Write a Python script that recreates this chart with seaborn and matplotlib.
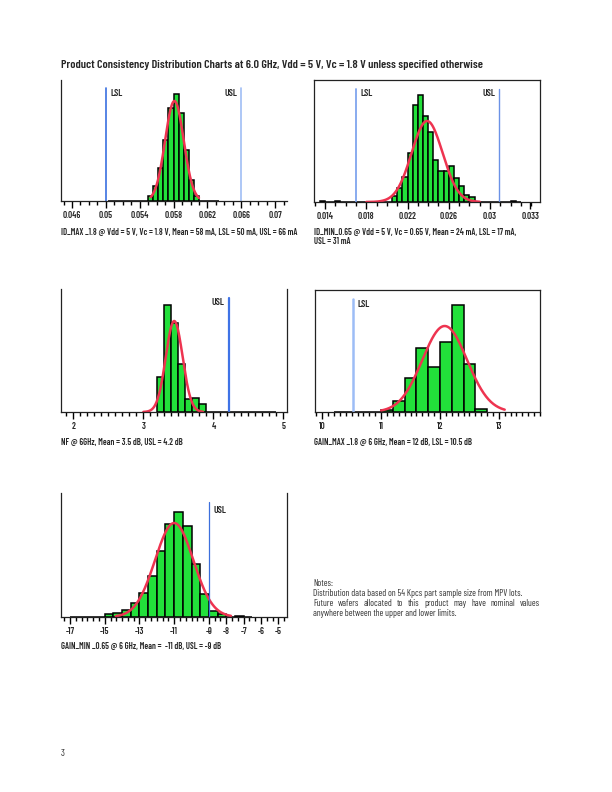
import numpy as np
import pandas as pd
import matplotlib
matplotlib.use("Agg")
import matplotlib.pyplot as plt
from matplotlib.ticker import FixedLocator, MultipleLocator
import seaborn as sns

sns.set_theme(style="white")
# condensed sans, close to the datasheet's Myriad Condensed
plt.rcParams["font.family"] = ["Barlow Condensed", "Archivo Narrow", "DejaVu Sans"]

# ---- data (bar heights in arbitrary units) ----
# ID_MAX
idmax_centers = [0.0553, 0.0559, 0.0565, 0.0571, 0.0577, 0.0583, 0.0589, 0.0595, 0.0601, 0.0607]
idmax_counts = [5, 15, 33, 61, 93, 107, 88, 51, 21, 5]
idmax_ticks = [0.046, 0.05, 0.054, 0.058, 0.062, 0.066, 0.07]
idmax_labels = ["0.046", "0.05", "0.054", "0.058", "0.062", "0.066", "0.07"]

# ID_MIN
idmin_centers = [0.01375, 0.01525, 0.02075, 0.02125, 0.02175, 0.02225, 0.02275, 0.02325,
                 0.02375, 0.02425, 0.02475, 0.02525, 0.02575, 0.02625, 0.02675, 0.02725,
                 0.02775, 0.02825, 0.03225]
idmin_counts = [1, 1, 6, 14, 25, 49, 97, 107, 86, 70, 42, 31, 31, 36, 24, 16, 7, 5, 1]
idmin_ticks = [0.014, 0.018, 0.022, 0.026, 0.03, 0.0339]
idmin_labels = ["0.014", "0.018", "0.022", "0.026", "0.03", "0.033"]

# NF
nf_centers = [3.25, 3.35, 3.45, 3.55, 3.65, 3.75, 3.85]
nf_counts = [35, 107, 89, 48, 13, 14, 8]
nf_ticks = [2, 3, 4, 5]
nf_labels = ["2", "3", "4", "5"]

# GAIN_MAX
gmax_centers = [11.1, 11.3, 11.5, 11.7, 11.9, 12.1, 12.3, 12.5, 12.7]
gmax_counts = [2, 11, 34, 64, 45, 70, 107, 48, 3]
gmax_ticks = [10, 11, 12, 13]
gmax_labels = ["10", "11", "12", "13"]

# GAIN_MIN
gmin_centers = [-14.75, -14.25, -13.75, -13.25, -12.75, -12.25, -11.75, -11.25, -10.75,
                -10.25, -9.75, -9.25, -8.75, -8.25, -7.25]
gmin_counts = [3, 4, 7, 14, 24, 41, 66, 93, 105, 91, 53, 23, 6, 3, 1]
gmin_ticks = [-17, -15, -13, -11, -9, -8, -7, -6, -5]
gmin_labels = ["-17", "-15", "-13", "-11", "-9", "-8", "-7", "-6", "-5"]

# normal fit overlays: mean, sd, peak height
fits = {
    "idmax": (0.0581, 0.0011, 100),
    "idmin": (0.0239, 0.0015, 81),
    "nf": (3.44, 0.12, 91),
    "gmax": (12.08, 0.38, 86),
    "gmin": (-11.0, 1.1, 94),
}

GREEN = "#22e03a"
RED = "#ee3450"
W, H = 612, 792
BOLD = 600


def box(l, t, r, b):
    return [l / W, 1 - b / H, (r - l) / W, (b - t) / H]


def panel(ax, centers, counts, width, rng, fit, span, xlim, ymax, ticks, labels, minor, spines):
    df = pd.DataFrame({"x": centers, "n": counts})
    sns.histplot(data=df, x="x", weights="n", binwidth=width, binrange=rng,
                 color=GREEN, edgecolor="black", linewidth=1.1, alpha=1, ax=ax)
    mean, sd, peak = fit
    xs = np.linspace(span[0], span[1], 200)
    ys = peak * np.exp(-0.5 * ((xs - mean) / sd) ** 2)
    sns.lineplot(x=xs, y=ys, color=RED, lw=1.8, ax=ax)
    ax.set_xlim(*xlim)
    ax.set_ylim(0, ymax)
    ax.set_yticks([])
    ax.set_xlabel("")
    ax.set_ylabel("")
    ax.xaxis.set_major_locator(FixedLocator(ticks))
    ax.set_xticklabels(labels, fontsize=6.6, fontweight=BOLD)
    ax.xaxis.set_minor_locator(MultipleLocator(minor))
    ax.tick_params(axis="x", which="both", bottom=True, direction="out", color="black", width=1)
    ax.tick_params(axis="x", which="major", length=5, pad=2)
    ax.tick_params(axis="x", which="minor", length=3)
    for side in ["left", "right", "top", "bottom"]:
        ax.spines[side].set_visible(side in spines)
        ax.spines[side].set_color("#222222")
        ax.spines[side].set_linewidth(0.9)
    ax.patch.set_alpha(0)


def spec(ax, x, text, color, lw, side, ty):
    ax.axvline(x, ymin=0, ymax=0.93, color=color, lw=lw)
    off = 3 if side == "right" else -3
    ax.annotate(text, (x, ty), xycoords=("data", "axes fraction"), xytext=(off, 0),
                textcoords="offset points", ha="left" if side == "right" else "right",
                va="center", fontsize=7, fontweight=BOLD)


fig = plt.figure(figsize=(6.12, 7.92), dpi=100)

ax1 = fig.add_axes(box(61, 80, 287, 201))
panel(ax1, idmax_centers, idmax_counts, 0.0006, (0.0502, 0.0634), fits["idmax"],
      (0.0553, 0.0610), (0.0447, 0.0714), 121, idmax_ticks, idmax_labels, 0.001, ["left", "bottom"])
spec(ax1, 0.05, "LSL", "#3a6fe0", 1.2, "right", 0.89)
spec(ax1, 0.066, "USL", "#a0bdf5", 1.2, "left", 0.89)

ax2 = fig.add_axes(box(314, 80, 540, 202))
panel(ax2, idmin_centers, idmin_counts, 0.0005, (0.0135, 0.0330), fits["idmin"],
      (0.0180, 0.0290), (0.01293, 0.03485), 122, idmin_ticks, idmin_labels, 0.001,
      ["left", "right", "top", "bottom"])
spec(ax2, 0.017, "LSL", "#7fa5ee", 1.3, "right", 0.89)
spec(ax2, 0.0309, "USL", "#6b92e6", 1.0, "left", 0.89)

ax3 = fig.add_axes(box(61, 289, 287, 412))
panel(ax3, nf_centers, nf_counts, 0.1, (3.2, 4.9), fits["nf"],
      (3.0, 3.85), (1.824, 5.05), 123, nf_ticks, nf_labels, 0.1, ["left", "right", "bottom"])
spec(ax3, 4.22, "USL", "#3f73e6", 1.6, "left", 0.89)

ax4 = fig.add_axes(box(315, 290, 540, 412))
panel(ax4, gmax_centers, gmax_counts, 0.2, (10.2, 12.8), fits["gmax"],
      (11.0, 13.1), (9.876, 13.70), 122, gmax_ticks, gmax_labels, 0.1,
      ["left", "right", "top", "bottom"])
spec(ax4, 10.52, "LSL", "#9dbdf6", 1.8, "right", 0.88)

ax5 = fig.add_axes(box(61, 493, 287, 617))
panel(ax5, gmin_centers, gmin_counts, 0.5, (-17, -6.5), fits["gmin"],
      (-14.36, -7.73), (-17.52, -4.5), 124, gmin_ticks, gmin_labels, 1 / 3,
      ["left", "right", "bottom"])
spec(ax5, -9.0, "USL", "#3c6fdc", 0.9, "right", 0.86)


# ---- page text ----
def ftext(x, y, s, **kw):
    return fig.text(x / W, 1 - y / H, s, va="center", ha="left", **kw)


ftext(61, 65, "Product Consistency Distribution Charts at 6.0 GHz, Vdd = 5 V, Vc = 1.8 V unless specified otherwise",
      fontsize=8.7, fontweight=BOLD)
cap = dict(fontsize=6.3, fontweight=BOLD)
ftext(61, 232, "ID_MAX _1.8 @ Vdd = 5 V, Vc = 1.8 V, Mean = 58 mA, LSL = 50 mA, USL = 66 mA", **cap)
ftext(314, 232, "ID_MIN_0.65 @ Vdd = 5 V, Vc = 0.65 V, Mean = 24 mA, LSL = 17 mA,", **cap)
ftext(314, 242, "USL = 31 mA", **cap)
ftext(61, 443, "NF @ 6GHz, Mean = 3.5 dB, USL = 4.2 dB", **cap)
ftext(314, 443, "GAIN_MAX _1.8 @ 6 GHz, Mean = 12 dB, LSL = 10.5 dB", **cap)
ftext(61, 647, "GAIN_MIN _0.65 @ 6 GHz, Mean =  -11 dB, USL = -9 dB", **cap)

note = dict(fontsize=6.6, color="#333333")
ftext(313, 584, "Notes:", **note)
ftext(313, 594, "Distribution data based on 54 Kpcs part sample size from MPV lots.", **note)
ftext(313, 613, "anywhere between the upper and lower limits.", **note)

# justified line, as in the datasheet
words = "Future wafers allocated to this product may have nominal values".split()
renderer = fig.canvas.get_renderer()
pieces = [ftext(313, 603.5, w, **note) for w in words]
widths = [p.get_window_extent(renderer).width for p in pieces]
gap = (540 - 313 - sum(widths)) / (len(words) - 1)
xpos = 313
for p, w in zip(pieces, widths):
    p.set_x(xpos / W)
    xpos += w + gap

ftext(61, 753, "3", fontsize=7, color="#333333")

fig.savefig("out.png", dpi=100)
